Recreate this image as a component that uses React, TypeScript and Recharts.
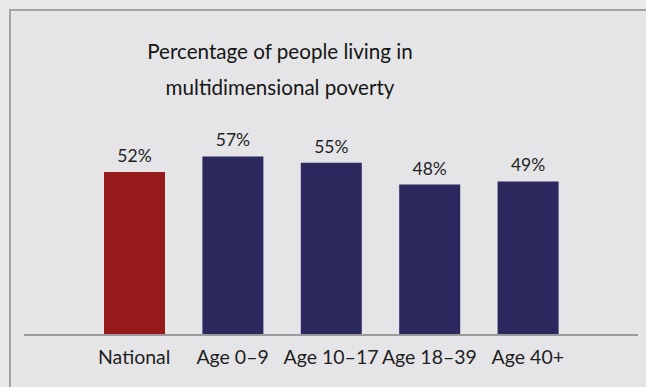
import React from "react";
import { BarChart, Bar, XAxis, YAxis, Cell, LabelList } from "recharts";

const categories = ["National", "Age 0–9", "Age 10–17", "Age 18–39", "Age 40+"];
const values = [52, 57, 55, 48, 49];
const barColors = ["#961a19", "#2b295e", "#2b295e", "#2b295e", "#2b295e"];
const titleLines = ["Percentage of people living in", "multidimensional poverty"];

const data = categories.map((label, i) => ({ label, value: values[i] }));

const FONT = "Lato, 'Open Sans', sans-serif";

export default function App() {
  return (
    <div
      style={{
        position: "absolute",
        left: 0,
        top: 0,
        width: 646,
        height: 387,
        background: "#e9e9eb",
        fontFamily: FONT,
        overflow: "hidden",
      }}
    >
      <div
        style={{
          position: "absolute",
          left: 9,
          top: 9,
          right: 0,
          bottom: 0,
          borderTop: "2px solid #a3a3a5",
          borderLeft: "2px solid #a3a3a5",
          background: "#e5e5e8",
        }}
      />
      <div
        style={{
          position: "absolute",
          left: 80,
          width: 400,
          top: 33,
          textAlign: "center",
          fontSize: 20.6,
          lineHeight: "36px",
          color: "#151515",
        }}
      >
        {titleLines.map((t) => (
          <div key={t}>{t}</div>
        ))}
      </div>
      <div style={{ position: "absolute", left: 0, top: 0 }}>
        <BarChart
          width={646}
          height={387}
          data={data}
          margin={{ top: 147, right: 8, left: 24, bottom: 22 }}
        >
          <XAxis
            dataKey="label"
            height={30}
            axisLine={{ stroke: "#9a9a9c", strokeWidth: 2 }}
            tickLine={false}
            tickSize={0}
            tickMargin={15}
            padding={{ left: 61, right: 61 }}
            interval={0}
            tick={{ fontSize: 19.5, fill: "#1f1f1f", fontFamily: FONT }}
          />
          <YAxis hide domain={[0, 60]} />
          <Bar dataKey="value" barSize={61} isAnimationActive={false}>
            {data.map((d, i) => (
              <Cell key={d.label} fill={barColors[i]} />
            ))}
            <LabelList
              dataKey="value"
              position="top"
              offset={10}
              formatter={(v: number) => `${v}%`}
              style={{ fontSize: 17.5, fill: "#1f1f1f", fontFamily: FONT }}
            />
          </Bar>
        </BarChart>
      </div>
    </div>
  );
}
